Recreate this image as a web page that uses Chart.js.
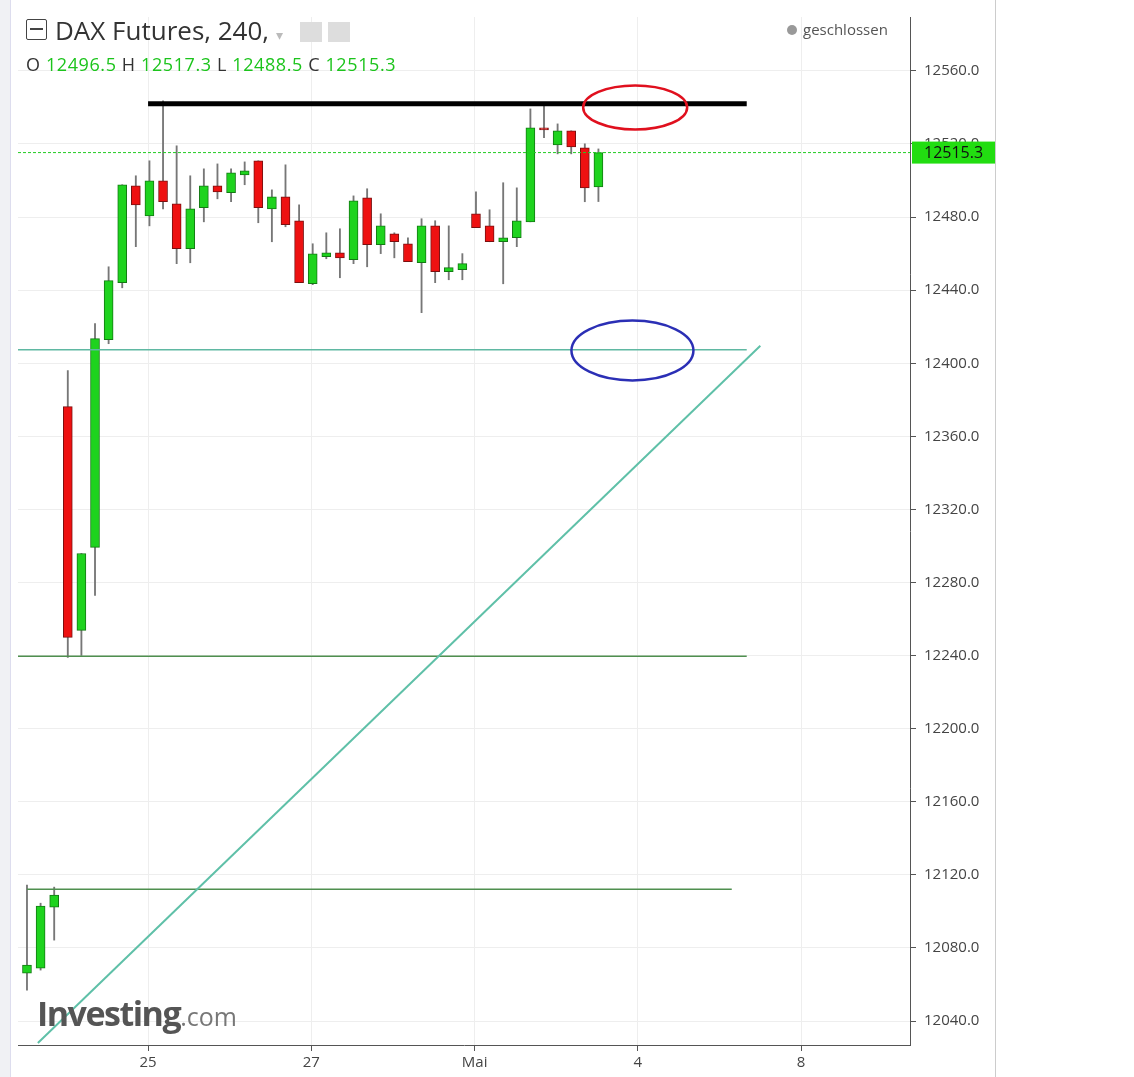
<!DOCTYPE html>
<html><head><meta charset="utf-8">
<script src="https://cdn.jsdelivr.net/npm/chart.js@4.4.0/dist/chart.umd.min.js"></script>
<style>
body{margin:0;background:#fff;font-family:"Open Sans",sans-serif;}
#wrap{position:absolute;left:0;top:0;width:995px;height:1077px;}
.t{position:absolute;white-space:nowrap;}
</style></head><body>
<div id="wrap"><canvas id="c"></canvas></div>
<div style="position:absolute;left:0;top:0;width:10px;height:1077px;background:#f0f1f4;border-right:1px solid #dde"></div>
<div style="position:absolute;left:995px;top:0;width:1px;height:1077px;background:#ccc"></div>
<div class="t" style="left:26px;top:12px;font-size:26px;color:#333"><span style="display:inline-block;width:19px;height:19px;border:1.5px solid #444;border-radius:2px;vertical-align:0px;margin-right:8px;font-size:0;position:relative"><span style="position:absolute;left:3px;right:3px;top:8px;height:1.5px;background:#444"></span></span>DAX Futures, 240, <span style="color:#bbb;font-size:14px">▾</span> <span style="display:inline-block;width:22px;height:20px;background:#ddd;vertical-align:-2px;margin-left:10px"></span> <span style="display:inline-block;width:22px;height:20px;background:#ddd;vertical-align:-2px"></span></div>
<div class="t" style="left:26px;top:52px;font-size:18px;letter-spacing:0.6px;color:#333">O <span style="color:#1cc41c">12496.5</span> H <span style="color:#1cc41c">12517.3</span> L <span style="color:#1cc41c">12488.5</span> C <span style="color:#1cc41c">12515.3</span></div>
<div class="t" style="left:787px;top:19px;font-size:15px;color:#555"><span style="display:inline-block;width:10px;height:10px;border-radius:5px;background:#999;margin-right:6px"></span>geschlossen</div>
<div class="t" style="left:37px;top:990px;font-size:34px;font-weight:bold;color:#555;letter-spacing:-1.5px">Investing<span style="font-weight:normal;font-size:25px;color:#777;letter-spacing:0">.com</span></div>
<script>
const opens  =[12066.2,12069.0,12102.3,12376.3,12253.8,12299.2,12412.9,12444.1,12497.1,12480.7,12499.9,12487.3,12462.7,12485.1,12497.1,12493.3,12503.1,12510.8,12484.5,12491.1,12478.0,12443.5,12458.3,12460.5,12456.7,12490.6,12464.9,12470.9,12465.4,12455.0,12475.2,12450.1,12451.2,12481.8,12475.2,12466.5,12468.7,12477.4,12528.8,12519.5,12527.2,12517.9,12496.5];
const highs  =[12114.4,12104.5,12113.3,12396.0,12295.9,12421.7,12452.8,12497.7,12502.6,12510.8,12543.6,12519.0,12502.6,12506.4,12509.1,12506.4,12510.2,12510.8,12494.9,12508.6,12486.7,12465.4,12471.4,12473.6,12491.6,12495.5,12481.8,12471.4,12468.7,12479.1,12478.0,12475.2,12460.0,12493.8,12484.0,12498.8,12496.0,12539.2,12540.9,12531.0,12527.2,12520.1,12517.3];
const lows   =[12056.9,12067.9,12084.3,12239.0,12240.1,12272.9,12410.7,12441.3,12463.8,12475.2,12484.5,12454.5,12455.0,12477.4,12490.0,12488.4,12497.7,12476.9,12466.5,12474.7,12444.1,12443.0,12457.2,12446.8,12454.5,12452.8,12460.0,12457.7,12455.6,12427.7,12444.1,12445.7,12445.7,12474.2,12466.5,12443.5,12463.8,12477.4,12523.4,12514.6,12514.6,12488.4,12488.5];
const closes =[12070.6,12102.9,12108.9,12250.0,12295.9,12413.5,12445.2,12497.7,12486.7,12499.9,12488.4,12462.7,12484.5,12497.1,12493.8,12504.2,12505.3,12485.1,12491.1,12475.8,12444.1,12459.9,12460.5,12457.7,12488.9,12464.9,12475.2,12466.5,12455.6,12475.2,12450.1,12452.3,12454.5,12474.2,12466.5,12468.7,12478.0,12528.8,12527.7,12527.2,12518.4,12496.0,12515.3];
const xTickPos=[8.9,20.9,32.9,44.9,56.9];
const xTickLabels=['25','27','Mai','4','8'];
const lastPrice=12515.3;
const resistance=[[8.9,12542],[52.9,12542]];
const tealH=[[-0.7,12407.4],[52.9,12407.4]];
const tealDiag=[[0.8,12028],[53.9,12409.6]];
const greenH1=[[-0.7,12239.6],[52.9,12239.6]];
const greenH2=[[0,12112.2],[51.8,12112.2]];
const ellipses=[{x:44.7,y:12540,rx:52,ry:22,c:'#e0101e'},{x:44.5,y:12407,rx:61,ry:30,c:'#2b2fb5'}];

const idx=opens.map((_,i)=>i);
const up=i=>closes[i]>=opens[i];
const body=idx.map(i=>({x:i,y:[opens[i],closes[i]]}));
const wick=idx.map(i=>({x:i,y:[lows[i],highs[i]]}));
const pts=a=>a.map(p=>({x:p[0],y:p[1]}));
const line=(d,col,w)=>({type:'line',data:pts(d),borderColor:col,borderWidth:w,pointRadius:0,fill:false,order:0});

const overlay={id:'ov',afterDatasetsDraw(ch){
  const c=ch.ctx,xs=ch.scales.x,ys=ch.scales.y,a=ch.chartArea;
  c.save();
  const yy=ys.getPixelForValue(lastPrice);
  c.setLineDash([3,2]);c.strokeStyle='#22cc22';c.lineWidth=1;
  c.beginPath();c.moveTo(a.left,yy);c.lineTo(a.right,yy);c.stroke();c.setLineDash([]);
  ellipses.forEach(e=>{c.strokeStyle=e.c;c.lineWidth=2.5;c.beginPath();
    c.ellipse(xs.getPixelForValue(e.x),ys.getPixelForValue(e.y),e.rx,e.ry,0,0,Math.PI*2);c.stroke();});
  c.fillStyle='#22dd11';c.fillRect(a.right+2,yy-11,83,22);
  c.fillStyle='#111';c.font='16px "Open Sans"';c.textBaseline='middle';c.fillText(lastPrice.toFixed(1),a.right+14,yy+1);
  c.restore();
}};

new Chart(document.getElementById('c'),{
  type:'bar',
  data:{datasets:[
    {data:wick,backgroundColor:'#777',barThickness:1.2,grouped:false,order:3},
    {data:body,backgroundColor:idx.map(i=>up(i)?'#1ed31e':'#ee1111'),borderColor:idx.map(i=>up(i)?'#137a13':'#7a1010'),borderWidth:1,borderSkipped:false,barThickness:9,grouped:false,order:2},
    line(resistance,'#000',5),
    line(tealH,'#5fb8a2',1.5),
    line(tealDiag,'#5fc0a8',2),
    line(greenH1,'#4f8f4f',1.5),
    line(greenH2,'#4f8f4f',1.5)
  ]},
  options:{responsive:true,maintainAspectRatio:false,animation:false,
    layout:{padding:{left:18,right:0,top:0,bottom:0}},
    plugins:{legend:{display:false},tooltip:{enabled:false}},
    scales:{
      x:{type:'linear',min:-0.66,max:64.9,offset:false,
        afterBuildTicks(s){s.ticks=xTickPos.map(v=>({value:v}));},
        afterFit(s){s.height=32;},
        ticks:{autoSkip:false,maxRotation:0,color:'#444',font:{size:15,family:'Open Sans'},callback:(v,i)=>xTickLabels[i]},
        grid:{offset:false,color:'#eeeeee',drawTicks:true,tickLength:6,tickColor:'#555'},border:{color:'#555'}},
      y:{position:'right',min:12026.9,max:12589.5,
        afterBuildTicks(s){const t=[];for(let v=12040;v<=12560;v+=40)t.push({value:v});s.ticks=t;},
        afterFit(s){s.width=85;},
        ticks:{color:'#444',padding:8,font:{size:15,family:'Open Sans'},callback:v=>v.toFixed(1)},
        grid:{color:'#eeeeee',tickLength:6,tickColor:'#555'},border:{color:'#555'}}
    }},
  plugins:[overlay]
});
</script></body></html>
